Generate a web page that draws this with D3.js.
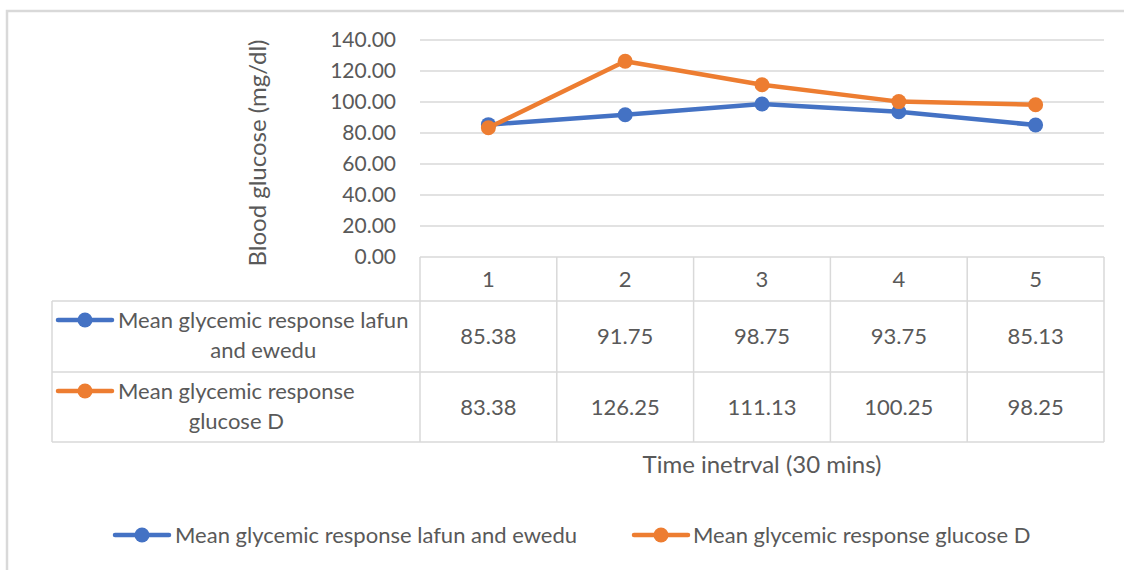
<!DOCTYPE html>
<html>
<head>
<meta charset="utf-8">
<script src="https://cdn.jsdelivr.net/npm/d3@7"></script>
<style>
  html, body { margin: 0; padding: 0; background: #fff; }
  svg text { font-family: Lato, "Open Sans", sans-serif; fill: #595959; }
</style>
</head>
<body>
<svg id="chart" width="1124" height="570"></svg>
<script>
// Time points (x categories)
const categories = ["1", "2", "3", "4", "5"];

// Mean blood glucose (mg/dl) at each time point
const lafunEwedu = [85.38, 91.75, 98.75, 93.75, 85.13];
const glucoseD = [83.38, 126.25, 111.13, 100.25, 98.25];

const seriesNames = [
  "Mean glycemic response lafun and ewedu",
  "Mean glycemic response glucose D"
];
// How each series name breaks inside the data table's label column
const tableLabelLines = [
  ["Mean glycemic response lafun", "and ewedu"],
  ["Mean glycemic response", "glucose D"]
];
const seriesColors = ["#4472C4", "#ED7D31"];

const yTicks = [0, 20, 40, 60, 80, 100, 120, 140];
const yTitle = "Blood glucose (mg/dl)";
const xTitle = "Time inetrval (30 mins)";

const series = [
  { name: seriesNames[0], values: lafunEwedu, color: seriesColors[0], lines: tableLabelLines[0] },
  { name: seriesNames[1], values: glucoseD, color: seriesColors[1], lines: tableLabelLines[1] }
];

const svg = d3.select("#chart");
const gridColor = "#D9D9D9";
const fs = 22;

// Outer chart frame
svg.append("path")
  .attr("d", "M7,570 L7,11 L1124,11")
  .attr("fill", "none")
  .attr("stroke", gridColor)
  .attr("stroke-width", 2.5);

// Plot area
const plot = { left: 420, right: 1104, top: 40, bottom: 257 };

const x = d3.scaleBand().domain(categories).range([plot.left, plot.right]).padding(0);
const y = d3.scaleLinear().domain([0, 140]).range([plot.bottom, plot.top]);

// Horizontal gridlines
svg.append("g")
  .selectAll("line")
  .data(yTicks.filter(t => t > 0))
  .join("line")
  .attr("x1", plot.left).attr("x2", plot.right)
  .attr("y1", d => y(d)).attr("y2", d => y(d))
  .attr("stroke", gridColor).attr("stroke-width", 1.5);

// Y axis labels
const yAxis = d3.axisLeft(y).tickValues(yTicks).tickFormat(d3.format(".2f")).tickSize(0).tickPadding(24);
const yg = svg.append("g").attr("transform", `translate(${plot.left},0)`).call(yAxis);
yg.select(".domain").remove();
yg.selectAll("text")
  .attr("font-size", 21)
  .attr("font-family", "Lato, sans-serif")
  .attr("fill", "#595959");

// Y title
svg.append("text")
  .attr("transform", `translate(266,153) rotate(-90)`)
  .attr("text-anchor", "middle")
  .attr("font-size", 24)
  .text(yTitle);

// Data table
const table = { left: 52, headerTop: 257, rowTops: [301, 372], bottom: 442 };
const tg = svg.append("g").attr("stroke", gridColor).attr("stroke-width", 1.5).attr("fill", "none");
// header row box over the plot columns
tg.append("line").attr("x1", plot.left).attr("x2", plot.right).attr("y1", table.headerTop).attr("y2", table.headerTop);
// row separators across the full table
[table.rowTops[0], table.rowTops[1], table.bottom].forEach(yy => {
  tg.append("line").attr("x1", table.left).attr("x2", plot.right).attr("y1", yy).attr("y2", yy);
});
// vertical column lines
tg.append("line").attr("x1", table.left).attr("x2", table.left).attr("y1", table.rowTops[0]).attr("y2", table.bottom);
categories.forEach(c => {
  tg.append("line").attr("x1", x(c)).attr("x2", x(c)).attr("y1", table.headerTop).attr("y2", table.bottom);
});
tg.append("line").attr("x1", plot.right).attr("x2", plot.right).attr("y1", table.headerTop).attr("y2", table.bottom);

// Header category labels
svg.append("g").selectAll("text")
  .data(categories)
  .join("text")
  .attr("x", d => x(d) + x.bandwidth() / 2)
  .attr("y", (table.headerTop + table.rowTops[0]) / 2)
  .attr("dy", "0.35em")
  .attr("text-anchor", "middle")
  .attr("font-size", fs)
  .text(d => d);

// Legend key glyph (line with a dot)
function keyGlyph(g, cx, cy, color) {
  g.append("line").attr("x1", cx - 27).attr("x2", cx + 27).attr("y1", cy).attr("y2", cy)
    .attr("stroke", color).attr("stroke-width", 4.5).attr("stroke-linecap", "round");
  g.append("circle").attr("cx", cx).attr("cy", cy).attr("r", 7.5).attr("fill", color);
}

// Table rows
series.forEach((s, i) => {
  const top = table.rowTops[i];
  const bot = i === 0 ? table.rowTops[1] : table.bottom;
  const mid = (top + bot) / 2;
  const g = svg.append("g");
  const line1Y = top + 19;
  keyGlyph(g, 85, line1Y, s.color);
  const t1 = g.append("text").attr("x", 118).attr("y", line1Y).attr("dy", "0.35em")
    .attr("font-size", fs).text(s.lines[0]);
  const w = t1.node().getComputedTextLength();
  g.append("text").attr("x", 118 + w / 2).attr("y", line1Y + 30).attr("dy", "0.35em")
    .attr("text-anchor", "middle").attr("font-size", fs).text(s.lines[1]);
  g.selectAll("text.val")
    .data(s.values)
    .join("text")
    .attr("class", "val")
    .attr("x", (d, j) => x(categories[j]) + x.bandwidth() / 2)
    .attr("y", mid)
    .attr("dy", "0.35em")
    .attr("text-anchor", "middle")
    .attr("font-size", fs)
    .text(d => d3.format(".2f")(d));
});

// Series lines and markers
const lineGen = d3.line()
  .x((d, j) => x(categories[j]) + x.bandwidth() / 2)
  .y(d => y(d));

series.forEach(s => {
  svg.append("path")
    .datum(s.values)
    .attr("d", lineGen)
    .attr("fill", "none")
    .attr("stroke", s.color)
    .attr("stroke-width", 4.5)
    .attr("stroke-linejoin", "round")
    .attr("stroke-linecap", "round");
  svg.append("g").selectAll("circle")
    .data(s.values)
    .join("circle")
    .attr("cx", (d, j) => x(categories[j]) + x.bandwidth() / 2)
    .attr("cy", d => y(d))
    .attr("r", 7.5)
    .attr("fill", s.color);
});

// X title
svg.append("text")
  .attr("x", (plot.left + plot.right) / 2)
  .attr("y", 465)
  .attr("dy", "0.35em")
  .attr("text-anchor", "middle")
  .attr("font-size", 24)
  .text(xTitle);

// Bottom legend
const legendY = 535;
const legendPos = [{ key: 142, text: 175 }, { key: 661, text: 693 }];
series.forEach((s, i) => {
  const g = svg.append("g");
  keyGlyph(g, legendPos[i].key, legendY, s.color);
  g.append("text").attr("x", legendPos[i].text).attr("y", legendY).attr("dy", "0.35em")
    .attr("font-size", fs).text(s.name);
});
</script>
</body>
</html>
